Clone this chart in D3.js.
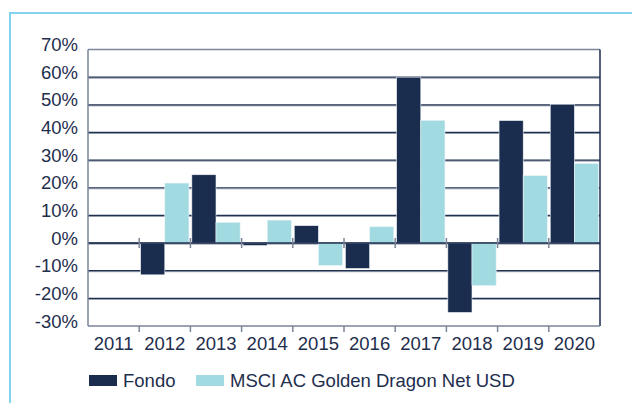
<!DOCTYPE html>
<html>
<head>
<meta charset="utf-8">
<script src="https://cdn.jsdelivr.net/npm/d3@7/dist/d3.min.js"></script>
<style>
  html, body { margin: 0; padding: 0; background: #fff; }
  svg { display: block; }
  text { font-family: "Liberation Sans", Arial, sans-serif; fill: #1e2e4d; }
</style>
</head>
<body>
<svg id="chart" width="632" height="403"></svg>
<script>
const years = ["2011","2012","2013","2014","2015","2016","2017","2018","2019","2020"];
const fondo = [null, -11.5, 24.7, -0.9, 6.3, -9.2, 60.0, -25.1, 44.3, 50.2];
const msci  = [null, 21.7, 7.5, 8.3, -8.1, 5.9, 44.4, -15.4, 24.4, 28.8];
const seriesNames = ["Fondo", "MSCI AC Golden Dragon Net USD"];
const yTicks = [-30, -20, -10, 0, 10, 20, 30, 40, 50, 60, 70];

(function () {
const navy = "#1b2d4e", light = "#a2dae1", grid = "#1f3050", axisGray = "#7b8598";
const svg = d3.select("#chart");

// outer light-blue frame
svg.append("path").attr("d", "M10,403 V13 H632").attr("fill", "none")
  .attr("stroke", "#84d3ec").attr("stroke-width", 2);

const pL = 88, pR = 600, pT = 49.5, pB = 326;
const x0 = d3.scaleBand().domain(years).range([pL, pR]).padding(0);
const x1 = d3.scaleBand().domain([0, 1]).range([0, x0.bandwidth()]).paddingOuter(0.06).paddingInner(0);
const y = d3.scaleLinear().domain([-30, 70]).range([pB, pT]);

// gridlines
yTicks.filter(t => t > -30 && t < 70).forEach(t => {
  svg.append("line").attr("x1", pL).attr("x2", pR).attr("y1", y(t) + 1).attr("y2", y(t) + 1)
    .attr("stroke", "#8a93a5").attr("stroke-width", 1);
  svg.append("line").attr("x1", pL).attr("x2", pR).attr("y1", y(t)).attr("y2", y(t))
    .attr("stroke", grid).attr("stroke-width", 1.2);
});

// bars
const data = [];
years.forEach((yr, i) => {
  [fondo[i], msci[i]].forEach((v, s) => { if (v !== null) data.push({ yr, s, v }); });
});
svg.append("g").selectAll("rect").data(data).join("rect")
  .attr("x", d => x0(d.yr) + x1(d.s))
  .attr("width", x1.bandwidth())
  .attr("y", d => y(Math.max(0, d.v)))
  .attr("height", d => Math.abs(y(d.v) - y(0)))
  .attr("fill", d => d.s === 0 ? navy : light)
  .attr("stroke", "#eef3f6").attr("stroke-width", 0.6);

// zero line
svg.append("line").attr("x1", pL).attr("x2", pR).attr("y1", y(0)).attr("y2", y(0))
  .attr("stroke", grid).attr("stroke-width", 1.5);

// plot frame
svg.append("line").attr("x1", pL).attr("x2", pR).attr("y1", pT).attr("y2", pT)
  .attr("stroke", "#7d879a").attr("stroke-width", 1.5);
svg.append("line").attr("x1", pR).attr("x2", pR).attr("y1", pT).attr("y2", pB)
  .attr("stroke", navy).attr("stroke-width", 1.5);
svg.append("line").attr("x1", pL).attr("x2", pL).attr("y1", pT).attr("y2", pB)
  .attr("stroke", axisGray).attr("stroke-width", 1.5);
svg.append("line").attr("x1", pL).attr("x2", pR).attr("y1", pB).attr("y2", pB)
  .attr("stroke", axisGray).attr("stroke-width", 1.5);

// ticks at category boundaries
years.slice(1).forEach(yr => {
  const xb = x0(yr);
  svg.append("line").attr("x1", xb).attr("x2", xb).attr("y1", y(0) - 5).attr("y2", y(0) + 5)
    .attr("stroke", axisGray).attr("stroke-width", 1.5);
  svg.append("line").attr("x1", xb).attr("x2", xb).attr("y1", pB).attr("y2", pB + 6)
    .attr("stroke", axisGray).attr("stroke-width", 1.5);
});

// y labels
svg.append("g").selectAll("text").data(yTicks).join("text")
  .attr("x", 78).attr("y", d => y(d) + 1.5)
  .attr("text-anchor", "end").attr("font-size", 18.5)
  .text(d => d + "%");

// x labels
svg.append("g").selectAll("text").data(years).join("text")
  .attr("x", d => x0(d) + x0.bandwidth() / 2).attr("y", 350)
  .attr("text-anchor", "middle").attr("font-size", 18.5)
  .text(d => d);

// legend
const lg = svg.append("g");
[{ x: 89, c: navy }, { x: 196, c: light }].forEach((o, i) => {
  lg.append("rect").attr("x", o.x).attr("y", 375).attr("width", 28).attr("height", 11).attr("fill", o.c);
  lg.append("text").attr("x", o.x + 34).attr("y", 387).attr("font-size", 18.5).text(seriesNames[i]);
});
})();
</script>
</body>
</html>
